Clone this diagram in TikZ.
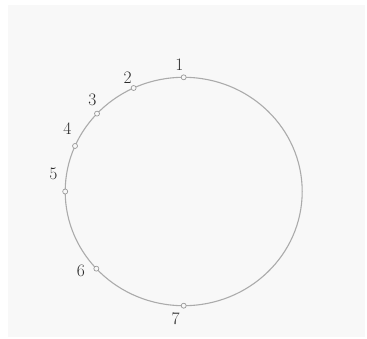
\documentclass[tikz,border=0pt]{standalone}
\usepackage{xcolor}
\definecolor{bgpanel}{HTML}{F8F8F8}
\definecolor{ringgray}{HTML}{ABABAB}
\definecolor{dotgray}{HTML}{9A9A9A}
\definecolor{labgray}{HTML}{2A2A2A}
\begin{document}
\begin{tikzpicture}[x=1pt,y=-1pt,
  dot/.style={circle,draw=dotgray,fill=bgpanel,line width=0.7pt,inner sep=0pt,minimum size=5pt},
  lab/.style={text=labgray,font=\fontsize{17.5}{20}\selectfont,inner sep=0pt}]
\useasboundingbox (0,0) rectangle (367,338);
\fill[white] (0,0) rectangle (367,338);
\fill[bgpanel] (8,5) rectangle (365,337);
\def\cx{183.7}\def\cy{191.5}\def\rx{118.5}\def\ry{114.2}
\draw[ringgray,line width=1.1pt] (\cx,\cy) ellipse [x radius=\rx, y radius=\ry];
\foreach \n/\a in {1/90,2/115,3/137,4/156.5,5/180,6/222.5,7/270}{
  \node[dot] (p\n) at ({\cx+\rx*cos(\a)},{\cy-\ry*sin(\a)}) {};
}
\node[lab] (l1) at (179.3,64.3) {1};
\node[lab] (l2) at (127.7,77.3) {2};
\node[lab] (l3) at (92.3,100) {3};
\node[lab] (l4) at (67.3,128.3) {4};
\node[lab] (l5) at (53.3,174) {5};
\node[lab] (l6) at (81,270.7) {6};
\node[lab] (l7) at (175.7,318.3) {7};
\end{tikzpicture}
\end{document}
